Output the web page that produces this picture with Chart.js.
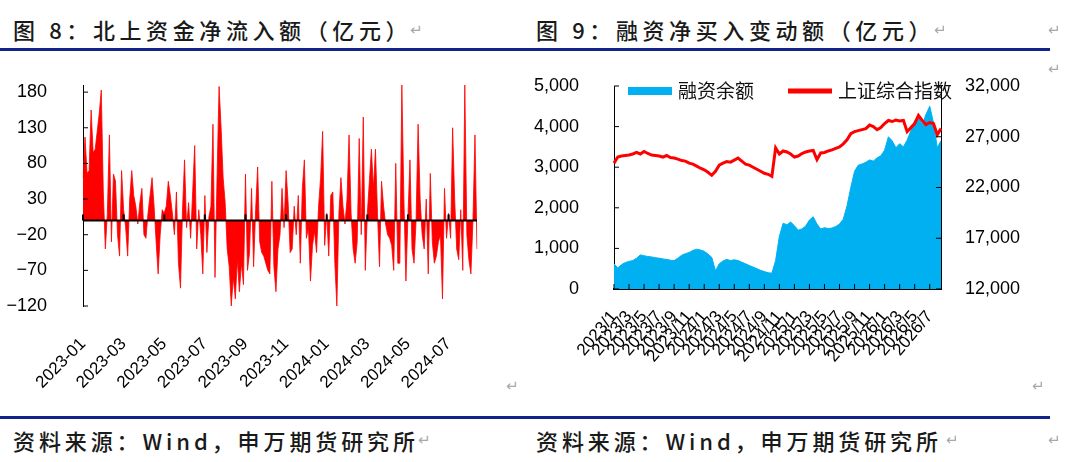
<!DOCTYPE html>
<html lang="zh-CN">
<head>
<meta charset="utf-8">
<script src="https://cdn.jsdelivr.net/npm/chart.js@4.4.0/dist/chart.umd.min.js"></script>
<style>
  html, body { margin: 0; padding: 0; background: #fff; }
  body { width: 1080px; height: 462px; position: relative; overflow: hidden; font-family: "Noto Sans CJK SC", sans-serif; }
  .cap { position: absolute; font-size: 22px; line-height: 24px; letter-spacing: 4.6px; color: #1a1a1a; white-space: nowrap; font-weight: 500; }
  .cap.src { letter-spacing: 3.9px; }
  .rule { position: absolute; left: 0; width: 1050px; height: 3px; background: #14238a; }
  .mark { position: absolute; font-size: 15px; line-height: 16px; color: #a8a8a8; font-family: "DejaVu Sans", sans-serif; }
  canvas { position: absolute; }
</style>
</head>
<body>
<div class="cap" style="left:13px; top:17px;">图 8：北上资金净流入额（亿元）</div>
<div class="cap" style="left:536px; top:17px;">图 9：融资净买入变动额（亿元）</div>
<div class="rule" style="top:48px;"></div>
<div class="rule" style="top:416px;"></div>
<div class="cap src" style="left:13px; top:428px;">资料来源：Wind，申万期货研究所</div>
<div class="cap src" style="left:536px; top:428px;">资料来源：Wind，申万期货研究所</div>

<canvas id="flowChart" width="500" height="340" style="left:0; top:60px;"></canvas>
<canvas id="marginChart" width="540" height="340" style="left:520px; top:60px;"></canvas>

<div class="mark" style="left:410px; top:22px;">↵</div>
<div class="mark" style="left:934px; top:22px;">↵</div>
<div class="mark" style="left:1048px; top:22px;">↵</div>
<div class="mark" style="left:1048px; top:61px;">↵</div>
<div class="mark" style="left:506px; top:378px;">↵</div>
<div class="mark" style="left:1032px; top:378px;">↵</div>
<div class="mark" style="left:418px; top:432px;">↵</div>
<div class="mark" style="left:946px; top:432px;">↵</div>
<div class="mark" style="left:1048px; top:432px;">↵</div>

<script>
// 北上资金净流入额（亿元），2023-01 起每月约 10 个点
const flowValues = [
  60, 117, 66, 70, 155, 95, 100, 125, 150, 183,
  40, -40, 10, 120, -30, 65, 55, -20, -50, 70,
  15, -10, -50, 30, 70, 35, 20, -5, 25, 45,
  -20, -25, 10, 35, 60, 20, -30, -75, -20, 15,
  10, 20, 55, 35, 10, -20, 40, -60, -95, 15,
  85, -10, 25, -25, 40, 105, -40, 15, -20, -75,
  35, -45, 5, 20, 135, -80, 60, 188, 130, 60,
  25, -40, -65, -120, -80, -110, -55, -100, -60, -90,
  65, -70, -45, 45, -65, 15, 75, -30, -45, -50,
  -60, -70, -75, 55, -65, -100, -40, -20, 45, -10,
  70, 25, -45, -40, 20, -20, 35, -60, 45, 85,
  -25, -10, -85, -35, -15, -45, 20, 60, 125, -35,
  10, -50, 35, 40, -60, -120, 10, 60, 20, -5,
  30, 120, 10, -40, -60, -30, 115, -20, 145, -70,
  10, 55, 100, 45, 100, 10, -65, 55, 20, -5,
  -20, -25, -35, -70, 80, -60, -60, 190, 30, -85,
  5, 85, -40, -60, 0, 135, 30, -20, -40, 30,
  -75, 66, -30, -60, -50, -30, -20, -110, 45, -25,
  10, -25, 130, 30, -40, -55, 15, -70, 190, -20,
  -55, -75, 0, 120, -40
];
const flowTickLabels = ['2023-01', '2023-03', '2023-05', '2023-07', '2023-09',
  '2023-11', '2024-01', '2024-03', '2024-05', '2024-07'];
const flowYTicks = [-120, -70, -20, 30, 80, 130, 180];

// 融资余额 / 上证综合指数，半月一个点，2023/1 - 2026/8
const marginBalance = [
  620, 520, 600, 650, 680, 700, 760, 840, 820, 800,
  790, 770, 760, 740, 730, 710, 700, 760, 830, 870,
  900, 950, 980, 960, 930, 860, 780, 450, 620, 690,
  730, 700, 720, 700, 660, 620, 580, 540, 500, 460,
  430, 400, 390, 700, 1300, 1620, 1580, 1650, 1560, 1450,
  1480, 1550, 1700, 1780, 1600, 1480, 1510, 1490, 1500, 1540,
  1600, 1720, 2050, 2500, 2900, 3050, 3080, 3120, 3180, 3150,
  3230, 3280, 3420, 3750, 3650, 3480, 3580, 3500, 3670, 3900,
  4150, 4230, 4050, 4300, 4500, 4100, 3480, 3650
];
const sseIndex = [
  24400, 25000, 25100, 25150, 25200, 25300, 25450, 25300, 25550, 25350,
  25200, 25150, 25100, 25000, 25150, 24950, 24900, 24800, 24650, 24600,
  24400, 24300, 24100, 23900, 23750, 23500, 23200, 23600, 24200, 24400,
  24550, 24500, 24700, 24900, 24600, 24300, 24200, 24000, 23800, 23600,
  23400, 23300, 23100, 25900, 25300, 25600, 25500, 25300, 25000, 25100,
  25350, 25500, 25600, 25650, 24750, 25400, 25450, 25600, 25700, 25850,
  26000, 26300, 26700, 27300, 27500, 27600, 27700, 27800, 28150, 28000,
  27700, 27900, 28300, 28600, 28500, 28650, 28550, 28600, 27500, 27900,
  28300, 29100, 28600, 28200, 28400, 28300, 27200, 27800
];
const marginTickLabels = ['2023/1', '2023/3', '2023/5', '2023/7', '2023/9', '2023/11',
  '2024/1', '2024/3', '2024/5', '2024/7', '2024/9', '2024/11',
  '2025/1', '2025/3', '2025/5', '2025/7', '2025/9', '2025/11',
  '2026/1', '2026/3', '2026/5', '2026/7'];
const marginYTicks = [0, 1000, 2000, 3000, 4000, 5000];
const indexYTicks = [12000, 17000, 22000, 27000, 32000];

const numFont = { family: '"Liberation Sans", Arial, sans-serif', size: 18 };

// fixed axis sizes; tick padding must not push the plot area in
function fixSize(w, h) {
  return s => {
    if (w) s.width = w;
    if (h) s.height = h;
    s.paddingTop = 0;
    s.paddingBottom = 0;
    s.paddingLeft = 0;
    s.paddingRight = 0;
  };
}

// short inward tick marks and the zero line
const axisMarks = {
  id: 'axisMarks',
  afterDatasetsDraw(chart, args, opts) {
    const { ctx, chartArea } = chart;
    ctx.save();
    ctx.strokeStyle = '#000';
    if (opts.zero) {
      const y = chart.scales[opts.zero].getPixelForValue(0);
      ctx.lineWidth = 2;
      ctx.beginPath();
      ctx.moveTo(chartArea.left, y);
      ctx.lineTo(chartArea.right, y);
      ctx.stroke();
    }
    (opts.marks || []).forEach(m => {
      const scale = chart.scales[m.scale];
      let base = chartArea.bottom;
      if (m.side === 'left') base = chartArea.left;
      if (m.side === 'right') base = chartArea.right;
      if (m.base) base = chart.scales[m.base].getPixelForValue(0);
      ctx.lineWidth = m.width || 1;
      scale.ticks.forEach((t, i) => {
        if (t.label === null || t.label === undefined) return;
        const p = scale.getPixelForTick(i);
        ctx.beginPath();
        if (m.side === 'left') { ctx.moveTo(base, p); ctx.lineTo(base + m.len, p); }
        else if (m.side === 'right') { ctx.moveTo(base, p); ctx.lineTo(base - m.len, p); }
        else { ctx.moveTo(p, base); ctx.lineTo(p, base - m.len); }
        ctx.stroke();
      });
    });
    ctx.restore();
  }
};

// legend drawn inside the plot, as in the picture
const insideLegend = {
  id: 'insideLegend',
  afterDraw(chart, args, opts) {
    const { ctx, chartArea } = chart;
    ctx.save();
    ctx.font = opts.font;
    ctx.textBaseline = 'middle';
    let x = chartArea.left + opts.left;
    const y = chartArea.top + opts.top;
    chart.data.datasets.forEach((ds, i) => {
      const h = opts.boxHeights[i];
      ctx.fillStyle = ds.borderColor;
      ctx.fillRect(x, y - h / 2, opts.boxWidth, h);
      x += opts.boxWidth + opts.gap;
      ctx.fillStyle = opts.color;
      ctx.fillText(ds.label, x, y);
      x += ctx.measureText(ds.label).width + opts.spacing;
    });
    ctx.restore();
  }
};

new Chart(document.getElementById('flowChart'), {
  type: 'line',
  data: {
    labels: flowValues.map((v, i) => i),
    datasets: [{
      label: '北上资金净流入额',
      data: flowValues,
      borderColor: '#ff0000',
      backgroundColor: '#ff0000',
      borderWidth: 0.8,
      fill: 'origin',
      pointRadius: 0,
      tension: 0
    }]
  },
  options: {
    responsive: false,
    animation: false,
    layout: { padding: { left: 0, right: 23, top: 25, bottom: 0 } },
    plugins: {
      legend: { display: false },
      tooltip: { enabled: false },
      axisMarks: {
        zero: 'y',
        marks: [
          { scale: 'y', side: 'left', len: 5 },
          { scale: 'x', side: 'up', base: 'y', len: 6, width: 2 }
        ]
      }
    },
    scales: {
      x: {
        grid: { display: false },
        border: { display: false },
        ticks: {
          autoSkip: false,
          minRotation: 45,
          maxRotation: 45,
          padding: 20,
          color: '#000',
          font: { family: numFont.family, size: 17 },
          callback: (v, i) => (i % 20 === 0 ? flowTickLabels[i / 20] : null)
        },
        afterFit: fixSize(0, 94)
      },
      y: {
        min: -120,
        max: 190,
        afterBuildTicks: s => { s.ticks = flowYTicks.map(v => ({ value: v })); },
        grid: { display: false },
        border: { display: true, color: '#000', width: 1 },
        ticks: {
          padding: 28,
          color: '#000',
          font: numFont,
          callback: v => (v < 0 ? '\u2212' + Math.abs(v) : String(v))
        },
        afterFit: fixSize(83, 0)
      }
    }
  },
  plugins: [axisMarks]
});

new Chart(document.getElementById('marginChart'), {
  type: 'line',
  data: {
    labels: marginBalance.map((v, i) => i),
    datasets: [{
      label: '融资余额',
      data: marginBalance,
      yAxisID: 'yL',
      borderColor: '#00b0f0',
      backgroundColor: '#00b0f0',
      borderWidth: 1,
      fill: 'origin',
      pointRadius: 0,
      tension: 0,
      order: 2
    }, {
      label: '上证综合指数',
      data: sseIndex,
      yAxisID: 'yR',
      borderColor: '#ff0000',
      backgroundColor: '#ff0000',
      borderWidth: 3,
      fill: false,
      pointRadius: 0,
      tension: 0,
      order: 1
    }]
  },
  options: {
    responsive: false,
    animation: false,
    layout: { padding: { left: 0, right: 0, top: 26, bottom: 0 } },
    plugins: {
      legend: { display: false },
      tooltip: { enabled: false },
      insideLegend: {
        font: '19px "Noto Sans CJK SC", sans-serif',
        color: '#111',
        left: 14,
        top: 5,
        boxWidth: 44,
        boxHeights: [8, 5],
        gap: 6,
        spacing: 34
      },
      axisMarks: {
        marks: [
          { scale: 'yL', side: 'left', len: 5 },
          { scale: 'yR', side: 'right', len: 5 },
          { scale: 'x', side: 'up', len: 5 }
        ]
      }
    },
    scales: {
      x: {
        grid: { display: false },
        border: { display: true, color: '#000', width: 2 },
        ticks: {
          autoSkip: false,
          minRotation: 50,
          maxRotation: 50,
          padding: 10,
          color: '#000',
          font: { family: numFont.family, size: 17 },
          callback: (v, i) => (i % 4 === 0 ? marginTickLabels[i / 4] : null)
        },
        afterFit: fixSize(0, 111)
      },
      yL: {
        position: 'left',
        min: 0,
        max: 5000,
        afterBuildTicks: s => { s.ticks = marginYTicks.map(v => ({ value: v })); },
        grid: { display: false },
        border: { display: true, color: '#000', width: 1 },
        ticks: { padding: 27, color: '#000', font: numFont },
        afterFit: fixSize(94, 0)
      },
      yR: {
        position: 'right',
        min: 12000,
        max: 32000,
        afterBuildTicks: s => { s.ticks = indexYTicks.map(v => ({ value: v })); },
        grid: { display: false },
        border: { display: true, color: '#000', width: 1 },
        ticks: { padding: 16, color: '#000', font: numFont },
        afterFit: fixSize(119, 0)
      }
    }
  },
  plugins: [axisMarks, insideLegend]
});
</script>
</body>
</html>
